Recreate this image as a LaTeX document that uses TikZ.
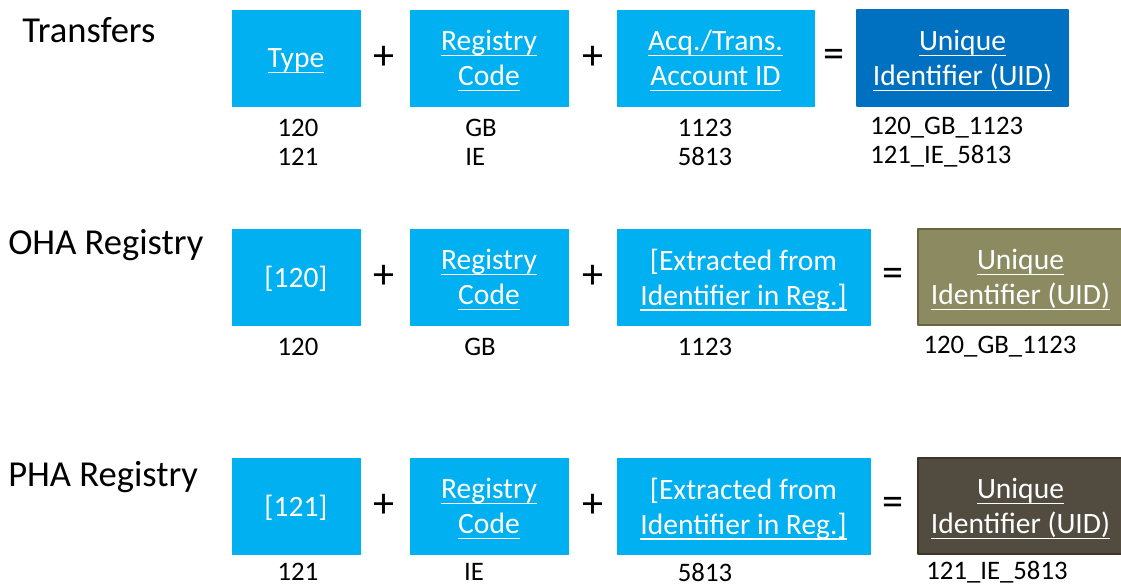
\documentclass[tikz,border=0pt]{standalone}
\usepackage{fontspec}
\setmainfont{Carlito}
\newcommand{\lnk}[1]{\setbox0\hbox{#1}\copy0\llap{\smash{\rule[-4pt]{\wd0}{1.1pt}}}}
\definecolor{cyanbox}{HTML}{00B0F0}
\definecolor{uidblue}{HTML}{0070C0}
\definecolor{uidolive}{HTML}{8C8A61}
\definecolor{oliveedge}{HTML}{66653F}
\definecolor{uidbrown}{HTML}{524B3F}
\definecolor{brownedge}{HTML}{3B3628}
\tikzset{
  part/.style={fill=cyanbox,draw=cyanbox,text=white,align=center,inner sep=0pt,
    text depth=0pt,minimum height=2.4cm,font=\fontsize{21}{25}\selectfont},
  uid/.style={part,line width=1.2pt},
  op/.style={font=\fontsize{30}{30}\selectfont},
  val/.style={align=left,font=\fontsize{19}{20.6}\selectfont,inner sep=0pt},
  title/.style={anchor=west,font=\fontsize{26}{28}\selectfont,inner sep=0pt}
}
\begin{document}
\begin{tikzpicture}[line cap=round,line join=round,x=0.025cm,y=-0.025cm]
\useasboundingbox (0,0) rectangle (1121,587);
% Transfers
\node [title] (ttr) at (22,30) {Transfers};
\node [part,minimum width=3.2cm] (ttype) at (296,58) {\lnk{Type}};
\node [op] (tp1) at (384,58) {+};
\node [part,minimum width=3.95cm] (treg) at (489,58) {\lnk{Registry}\\\lnk{Code}};
\node [op] (tp2) at (593,58) {+};
\node [part,minimum width=4.925cm] (tacc) at (715.5,58) {\lnk{Acq./Trans.}\\\lnk{Account ID}};
\node [op] (teq) at (834,58) {=};
\node [uid,fill=uidblue,draw=uidblue,minimum width=5.275cm] (tuid) at (962.5,58) {\lnk{Unique}\\\lnk{Identifier (UID)}};
\node [val] (tv1) at (298,142) {120\\121};
\node [val,anchor=west] (tv2) at (465,142) {GB\\IE};
\node [val] (tv3) at (705,142) {1123\\5813};
\node [val,anchor=west] (tv4) at (870,142) {120\_GB\_1123\\121\_IE\_5813};
% OHA Registry
\node [title] (otr) at (8,245) {OHA Registry};
\node [part,minimum width=3.2cm] (otype) at (296,277) {[120]};
\node [op] (op1) at (384,277) {+};
\node [part,minimum width=3.95cm] (oreg) at (489,277) {\lnk{Registry}\\\lnk{Code}};
\node [op] (op2) at (593,277) {+};
\node [part,minimum width=6.325cm] (oext) at (743.5,277) {[Extracted from\\\lnk{Identifier in Reg.]}};
\node [op] (oeq) at (893,277) {=};
\node [uid,fill=uidolive,draw=oliveedge,minimum width=5.125cm] (ouid) at (1020.5,277) {\lnk{Unique}\\\lnk{Identifier (UID)}};
\node [val] (ov1) at (298,347) {120};
\node [val] (ov2) at (480,347) {GB};
\node [val] (ov3) at (705,347) {1123};
\node [val] (ov4) at (1000,347) {120\_GB\_1123};
% PHA Registry
\node [title] (ptr) at (8,477) {PHA Registry};
\node [part,minimum width=3.2cm] (ptype) at (296,506) {[121]};
\node [op] (pp1) at (384,506) {+};
\node [part,minimum width=3.95cm] (preg) at (489,506) {\lnk{Registry}\\\lnk{Code}};
\node [op] (pp2) at (593,506) {+};
\node [part,minimum width=6.325cm] (pext) at (743.5,506) {[Extracted from\\\lnk{Identifier in Reg.]}};
\node [op] (peq) at (893,506) {=};
\node [uid,fill=uidbrown,draw=brownedge,minimum width=5.125cm] (puid) at (1020.5,506) {\lnk{Unique}\\\lnk{Identifier (UID)}};
\node [val] (pv1) at (298,572) {121};
\node [val] (pv2) at (474,572) {IE};
\node [val] (pv3) at (705,572) {5813};
\node [val] (pv4) at (997,572) {121\_IE\_5813};
\end{tikzpicture}
\end{document}
